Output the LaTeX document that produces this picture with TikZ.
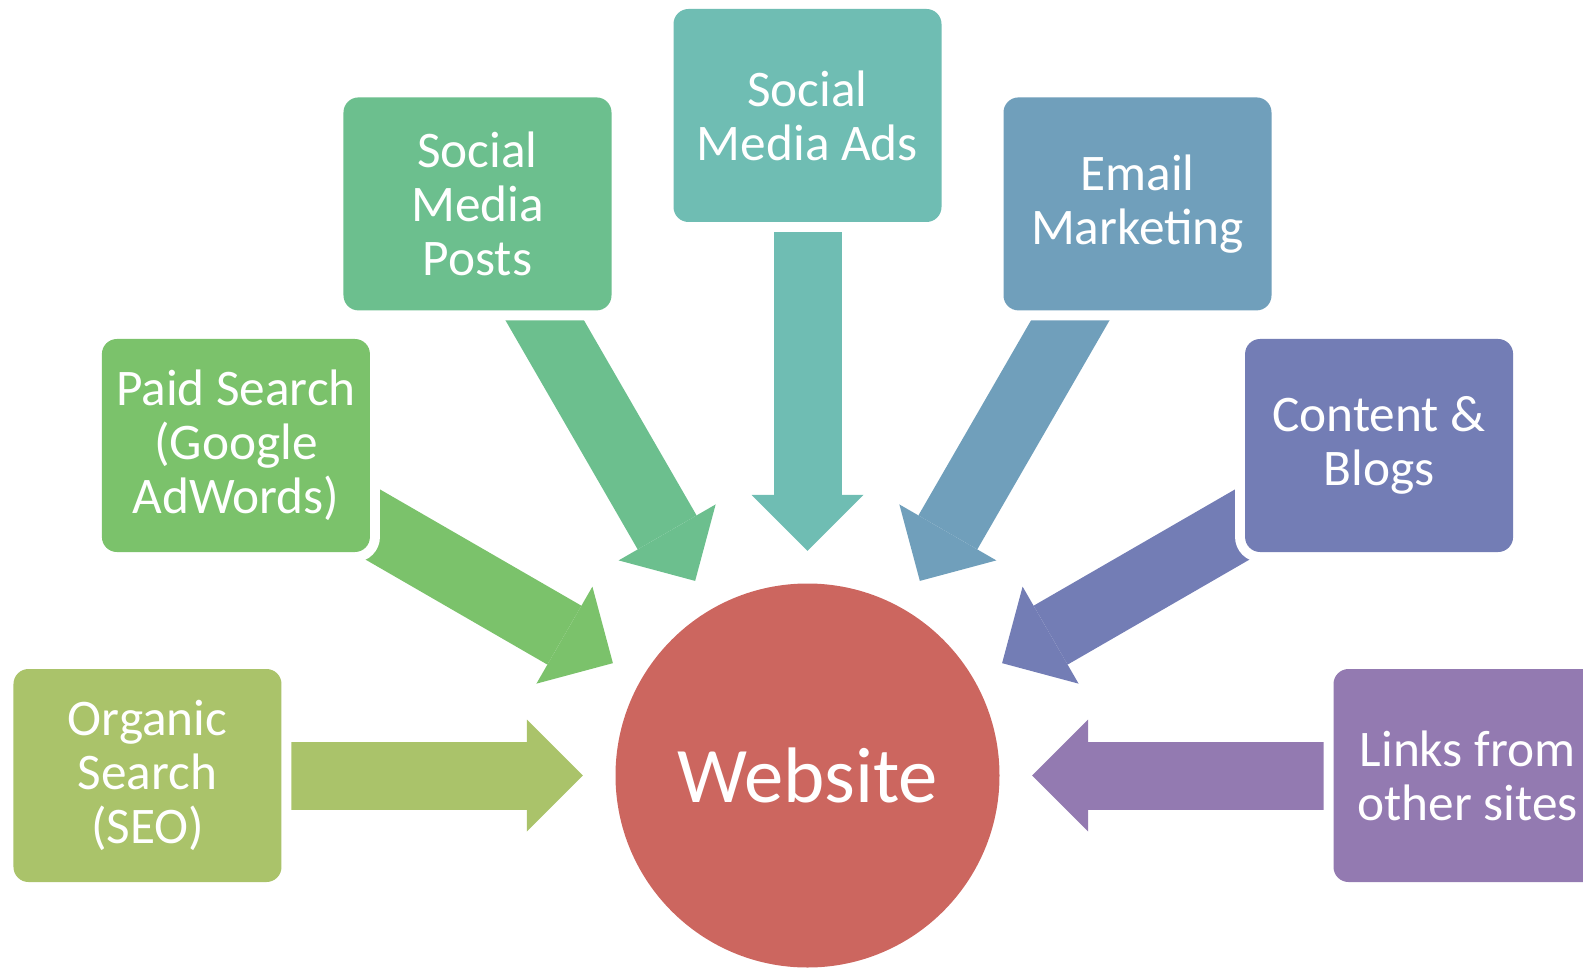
\documentclass[tikz,border=0pt]{standalone}
\usepackage{fontspec}
\setmainfont{Carlito}
\usepackage{tikz}
\usetikzlibrary{arrows.meta, backgrounds}

\definecolor{organicCol}{HTML}{AAC36A}
\definecolor{paidCol}{HTML}{7BC26B}
\definecolor{postsCol}{HTML}{6CBF8E}
\definecolor{adsCol}{HTML}{6FBDB3}
\definecolor{emailCol}{HTML}{709FBB}
\definecolor{contentCol}{HTML}{737DB5}
\definecolor{linksCol}{HTML}{937AB1}
\definecolor{websiteCol}{HTML}{CC665F}

\begin{document}
\begin{tikzpicture}[
        box/.style={fill=#1, rounded corners=0.15cm, align=center, text=white,
            minimum width=2.68cm, minimum height=2.13cm, inner sep=0pt,
            font=\fontsize{14.6}{15.4}\selectfont,
            preaction={draw=white, line width=0.2cm}},
        flow/.style={draw=#1, line width=0.68cm,
            -{Triangle[width=1.12cm, length=0.56cm, line width=0pt]},
            shorten >=0.32cm}
    ]
    \useasboundingbox (-8.075,-1.915) rectangle (7.755,7.755);
    % Nodos
    \node[circle, fill=websiteCol, minimum size=3.84cm, inner sep=0pt, text=white,
        font=\fontsize{22.4}{26}\selectfont] (website) at (0, 0) {Website};
    \node[box=organicCol] (organicSearch) at (180:6.6) {Organic \\ Search \\ (SEO)};
    \node[box=paidCol] (paidSearch) at (150:6.6) {Paid Search \\ (Google \\ AdWords)};
    \node[box=postsCol] (socialPosts) at (120:6.6) {Social \\ Media \\ Posts};
    \node[box=adsCol] (socialAds) at (90:6.6) {Social \\ Media Ads};
    \node[box=emailCol] (emailMarketing) at (60:6.6) {Email \\ Marketing};
    \node[box=contentCol] (contentBlogs) at (30:6.6) {Content \& \\ Blogs};
    \node[box=linksCol] (linksSites) at (0:6.6) {Links from \\ other sites};
    % Flechas
    \begin{scope}[on background layer]
    \draw[flow=organicCol] (organicSearch.center) -- (website);
    \draw[flow=paidCol] (paidSearch.center) -- (website);
    \draw[flow=postsCol] (socialPosts.center) -- (website);
    \draw[flow=adsCol] (socialAds.center) -- (website);
    \draw[flow=emailCol] (emailMarketing.center) -- (website);
    \draw[flow=contentCol] (contentBlogs.center) -- (website);
    \draw[flow=linksCol] (linksSites.center) -- (website);
    \end{scope}
\end{tikzpicture}
\end{document}
